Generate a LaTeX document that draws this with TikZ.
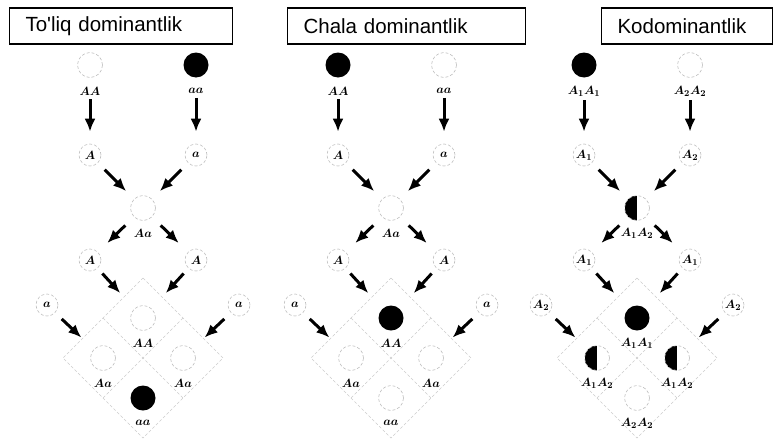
\documentclass[tikz,border=0pt]{standalone}
\usepackage{fontspec}
\newfontfamily\titlefont{Liberation Sans}
\usetikzlibrary{arrows.meta}

\begin{document}
\begin{tikzpicture}[x=1pt,y=-1pt,
	faint/.style={draw=gray!50, densely dashed, line width=0.6pt},
	ind/.style={circle, minimum size=25pt, inner sep=0pt},
	open/.style={ind, faint},
	full/.style={ind, fill=black},
	half/.style={ind, faint, path picture={\fill[black] (path picture bounding box.north west) rectangle (path picture bounding box.south);}},
	gam/.style={circle, minimum size=22pt, inner sep=0pt, faint, font=\fontsize{13}{15}\selectfont\boldmath},
	lab/.style={font=\fontsize{13}{15}\selectfont\boldmath, inner sep=1pt},
	arr/.style={-{Latex[length=13pt,width=11pt]}, line width=3pt},
	grid/.style={gray!40, densely dashed, line width=0.5pt},
	titlebox/.style={draw, line width=1.1pt, anchor=west, minimum height=36pt, inner xsep=16pt, align=left, font=\titlefont\fontsize{20.5}{24}\selectfont}]
				\useasboundingbox (0,0) rectangle (783,439);
				\clip (0,0) rectangle (783,439);
				\node[titlebox, text width=191pt, at={(9,26)}] (ttla) {To'liq dominantlik};
				\node[titlebox, text width=206pt, at={(287,26)}] (ttlb) {Chala dominantlik};
				\node[titlebox, text width=139pt, at={(601,26)}] (ttlc) {Kodominantlik};
				% Punnett diamonds
				\foreach \x in {143,391,637}
				\draw[grid, shift={(\x,0)}] (0,278)--(80,358)--(0,438)--(-80,358)--cycle (-40,318)--(40,398) (40,318)--(-40,398);
				% to'liq dominantlik
				\begin{scope}[shift={(143,0)}, name prefix=a-]
				\node[open, at={(-53,65)}] (p1) {};
				\node[full, at={(53,65)}] (p2) {};
				\node[lab, at={(-53,91)}] (p1l) {$AA$};
				\node[lab, at={(53,91)}] (p2l) {$aa$};
				\node[gam, at={(-53,155)}] (g1) {$A$};
				\node[gam, at={(53,155)}] (g2) {$a$};
				\node[open, at={(0,208)}] (f1) {};
				\node[lab, at={(0,233)}] (f1l) {$Aa$};
				\node[gam, at={(-53,260)}] (h1) {$A$};
				\node[gam, at={(53,260)}] (h2) {$A$};
				\node[gam, at={(-96,305)}] (s1) {$a$};
				\node[gam, at={(96,305)}] (s2) {$a$};
				\node[open, at={(0,318)}] (c1) {};
				\node[open, at={(-40,358)}] (c2) {};
				\node[open, at={(40,358)}] (c3) {};
				\node[full, at={(0,398)}] (c4) {};
				\node[lab, at={(0,343)}] {$AA$};
				\node[lab, at={(-40,383)}] {$Aa$};
				\node[lab, at={(40,383)}] {$Aa$};
				\node[lab, at={(0,423)}] {$aa$};
				\end{scope}
				% chala dominantlik
				\begin{scope}[shift={(391,0)}, name prefix=b-]
				\node[full, at={(-53,65)}] (p1) {};
				\node[open, at={(53,65)}] (p2) {};
				\node[lab, at={(-53,91)}] (p1l) {$AA$};
				\node[lab, at={(53,91)}] (p2l) {$aa$};
				\node[gam, at={(-53,155)}] (g1) {$A$};
				\node[gam, at={(53,155)}] (g2) {$a$};
				\node[open, at={(0,208)}] (f1) {};
				\node[lab, at={(0,233)}] (f1l) {$Aa$};
				\node[gam, at={(-53,260)}] (h1) {$A$};
				\node[gam, at={(53,260)}] (h2) {$A$};
				\node[gam, at={(-96,305)}] (s1) {$a$};
				\node[gam, at={(96,305)}] (s2) {$a$};
				\node[full, at={(0,318)}] (c1) {};
				\node[open, at={(-40,358)}] (c2) {};
				\node[open, at={(40,358)}] (c3) {};
				\node[open, at={(0,398)}] (c4) {};
				\node[lab, at={(0,343)}] {$AA$};
				\node[lab, at={(-40,383)}] {$Aa$};
				\node[lab, at={(40,383)}] {$Aa$};
				\node[lab, at={(0,423)}] {$aa$};
				\end{scope}
				% kodominantlik
				\begin{scope}[shift={(637,0)}, name prefix=c-]
				\node[full, at={(-53,65)}] (p1) {};
				\node[open, at={(53,65)}] (p2) {};
				\node[lab, at={(-53,91)}] (p1l) {$A_1A_1$};
				\node[lab, at={(53,91)}] (p2l) {$A_2A_2$};
				\node[gam, at={(-53,155)}] (g1) {$A_1$};
				\node[gam, at={(53,155)}] (g2) {$A_2$};
				\node[half, at={(0,208)}] (f1) {};
				\node[lab, at={(0,233)}] (f1l) {$A_1A_2$};
				\node[gam, at={(-53,260)}] (h1) {$A_1$};
				\node[gam, at={(53,260)}] (h2) {$A_1$};
				\node[gam, at={(-96,305)}] (s1) {$A_2$};
				\node[gam, at={(96,305)}] (s2) {$A_2$};
				\node[full, at={(0,318)}] (c1) {};
				\node[half, at={(-40,358)}] (c2) {};
				\node[half, at={(40,358)}] (c3) {};
				\node[open, at={(0,398)}] (c4) {};
				\node[lab, at={(0,343)}] {$A_1A_1$};
				\node[lab, at={(-40,383)}] {$A_1A_2$};
				\node[lab, at={(40,383)}] {$A_1A_2$};
				\node[lab, at={(0,423)}] {$A_2A_2$};
				\end{scope}
				% arrows, same in every panel
				\foreach \p in {a,b,c} {
				\draw[arr, shorten <=3pt, shorten >=12pt] (\p-p1l) -- (\p-g1);
				\draw[arr, shorten <=3pt, shorten >=12pt] (\p-p2l) -- (\p-g2);
				\draw[arr, shorten <=9.5pt, shorten >=11pt] (\p-g1) -- (\p-f1);
				\draw[arr, shorten <=9.5pt, shorten >=11pt] (\p-g2) -- (\p-f1);
				\draw[arr, shorten <=12pt, shorten >=13pt] (\p-f1) -- (\p-h1);
				\draw[arr, shorten <=12pt, shorten >=13pt] (\p-f1) -- (\p-h2);
				\draw[arr, shorten <=7pt, shorten >=21pt] (\p-h1) -- (\p-c1);
				\draw[arr, shorten <=7pt, shorten >=21pt] (\p-h2) -- (\p-c1);
				\draw[arr, shorten <=9pt, shorten >=17pt] (\p-s1) -- (\p-c2);
				\draw[arr, shorten <=9pt, shorten >=17pt] (\p-s2) -- (\p-c3);
				}
				\end{tikzpicture}
\end{document}
